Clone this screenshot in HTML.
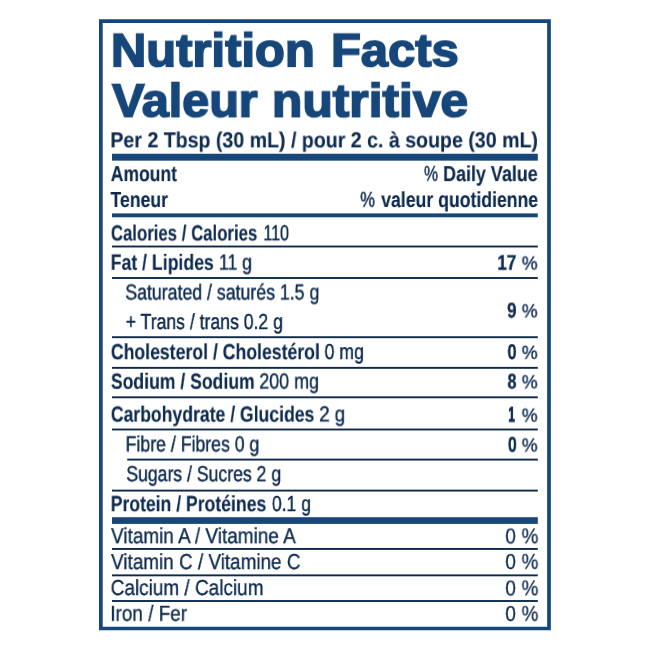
<!DOCTYPE html>
<html><head><meta charset="utf-8"><title>Nutrition Facts</title>
<style>
html,body{margin:0;padding:0;background:#fff;}
body{width:650px;height:650px;position:relative;overflow:hidden;font-family:"Liberation Sans",sans-serif;color:#0f2c50;}
.t{position:absolute;left:0;top:0;white-space:pre;line-height:1;font-weight:400;transform-origin:0 0;will-change:transform;text-rendering:geometricPrecision;}
.b{font-weight:700;}
.g{position:absolute;left:0;top:0;}
</style></head><body>
<svg class="g" width="650" height="650" viewBox="0 0 650 650">
<path fill-rule="evenodd" fill="#17477a" d="M99 19.25H550.85V630.2H99Z M102.7 22.9V626.75H547.15V22.9Z"/>
<rect x="112.00" y="153.75" width="425.80" height="6.90" fill="#17477a"/>
<rect x="112.00" y="213.40" width="425.80" height="3.90" fill="#17477a"/>
<rect x="112.00" y="245.55" width="425.80" height="1.90" fill="#0e2a48"/>
<rect x="112.00" y="277.05" width="425.80" height="1.90" fill="#0e2a48"/>
<rect x="112.00" y="336.25" width="425.80" height="1.90" fill="#0e2a48"/>
<rect x="112.00" y="366.90" width="425.80" height="1.90" fill="#0e2a48"/>
<rect x="112.00" y="396.35" width="425.80" height="1.90" fill="#0e2a48"/>
<rect x="112.00" y="428.55" width="425.80" height="1.90" fill="#0e2a48"/>
<rect x="127.20" y="458.65" width="410.60" height="1.90" fill="#0e2a48"/>
<rect x="112.00" y="489.65" width="425.80" height="1.90" fill="#0e2a48"/>
<rect x="112.00" y="517.20" width="425.80" height="6.70" fill="#17477a"/>
<rect x="112.00" y="548.00" width="425.80" height="1.90" fill="#0e2a48"/>
<rect x="112.00" y="574.40" width="425.80" height="1.90" fill="#0e2a48"/>
<rect x="112.00" y="600.05" width="425.80" height="1.90" fill="#0e2a48"/>
</svg>
<div class="t b" style="font-size:48.65px;transform:translate(110.91px,27.74px) scale(1.0061,0.96);-webkit-text-stroke:1.77px #17477a;color:#17477a;">Nutrition</div>
<div class="t b" style="font-size:48.65px;transform:translate(331.01px,27.74px) scale(1.0047,0.96);-webkit-text-stroke:1.77px #17477a;color:#17477a;">Facts</div>
<div class="t b" style="font-size:48.65px;transform:translate(112.14px,78.04px) scale(0.9965,0.96);-webkit-text-stroke:1.77px #17477a;color:#17477a;">Valeur</div>
<div class="t b" style="font-size:48.65px;transform:translate(271.89px,78.04px) scale(1.0225,0.96);-webkit-text-stroke:1.77px #17477a;color:#17477a;">nutritive</div>
<div class="t b" style="font-size:21.90px;transform:translate(110.33px,129.35px) scale(0.8944,1.00);-webkit-text-stroke:0.12px #0f2c50;">Per 2 Tbsp (30 mL) / pour 2 c. à soupe (30 mL)</div>
<div class="t b" style="font-size:21.70px;transform:translate(110.71px,163.10px) scale(0.8085,1.00);-webkit-text-stroke:0.15px #0f2c50;">Amount</div>
<div class="t b" style="font-size:21.70px;transform:translate(110.45px,189.00px) scale(0.8140,1.00);-webkit-text-stroke:0.15px #0f2c50;">Teneur</div>
<div class="t" style="font-size:21.40px;transform:translate(423.96px,163.75px) scale(0.7403,1.00);-webkit-text-stroke:0.45px #0f2c50;">%</div>
<div class="t b" style="font-size:21.70px;transform:translate(443.09px,163.10px) scale(0.8260,1.00);-webkit-text-stroke:0.15px #0f2c50;">Daily Value</div>
<div class="t" style="font-size:21.40px;transform:translate(360.14px,189.65px) scale(0.7789,1.00);-webkit-text-stroke:0.45px #0f2c50;">%</div>
<div class="t b" style="font-size:21.70px;transform:translate(381.20px,189.00px) scale(0.8137,1.00);-webkit-text-stroke:0.15px #0f2c50;">valeur quotidienne</div>
<div class="t b" style="font-size:22.00px;transform:translate(110.85px,222.50px) scale(0.7627,1.00);-webkit-text-stroke:0.12px #0f2c50;">Calories / Calories</div>
<div class="t" style="font-size:21.70px;transform:translate(263.40px,222.25px) scale(0.7394,1.00);-webkit-text-stroke:0.45px #0f2c50;">110</div>
<div class="t b" style="font-size:22.00px;transform:translate(110.66px,251.80px) scale(0.8036,1.00);-webkit-text-stroke:0.12px #0f2c50;">Fat / Lipides</div>
<div class="t" style="font-size:21.70px;transform:translate(218.90px,251.55px) scale(0.8149,1.00);-webkit-text-stroke:0.45px #0f2c50;">11 g</div>
<div class="t" style="font-size:19.00px;transform:translate(521.76px,254.55px) scale(0.9331,1.00);-webkit-text-stroke:0.35px #0f2c50;">%</div>
<div class="t b" style="font-size:21.20px;transform:translate(497.35px,252.65px) scale(0.8028,1.00);-webkit-text-stroke:0.35px #0f2c50;">17</div>
<div class="t" style="font-size:21.70px;transform:translate(125.31px,281.45px) scale(0.8168,1.00);-webkit-text-stroke:0.45px #0f2c50;">Saturated / saturés 1.5 g</div>
<div class="t" style="font-size:21.70px;transform:translate(125.72px,310.95px) scale(0.8123,1.00);-webkit-text-stroke:0.45px #0f2c50;">+ Trans / trans 0.2 g</div>
<div class="t" style="font-size:19.00px;transform:translate(521.76px,302.35px) scale(0.9331,1.00);-webkit-text-stroke:0.35px #0f2c50;">%</div>
<div class="t b" style="font-size:21.20px;transform:translate(507.07px,300.45px) scale(0.8014,1.00);-webkit-text-stroke:0.35px #0f2c50;">9</div>
<div class="t b" style="font-size:22.00px;transform:translate(110.81px,341.20px) scale(0.8029,1.00);-webkit-text-stroke:0.12px #0f2c50;">Cholesterol / Cholestérol</div>
<div class="t" style="font-size:21.70px;transform:translate(324.54px,340.95px) scale(0.8166,1.00);-webkit-text-stroke:0.45px #0f2c50;">0 mg</div>
<div class="t" style="font-size:19.00px;transform:translate(521.76px,343.85px) scale(0.9331,1.00);-webkit-text-stroke:0.35px #0f2c50;">%</div>
<div class="t b" style="font-size:21.20px;transform:translate(507.44px,341.95px) scale(0.7746,1.00);-webkit-text-stroke:0.35px #0f2c50;">0</div>
<div class="t b" style="font-size:22.00px;transform:translate(110.88px,370.70px) scale(0.8005,1.00);-webkit-text-stroke:0.12px #0f2c50;">Sodium / Sodium</div>
<div class="t" style="font-size:21.70px;transform:translate(259.29px,370.45px) scale(0.8258,1.00);-webkit-text-stroke:0.45px #0f2c50;">200 mg</div>
<div class="t" style="font-size:19.00px;transform:translate(521.76px,373.35px) scale(0.9331,1.00);-webkit-text-stroke:0.35px #0f2c50;">%</div>
<div class="t b" style="font-size:21.20px;transform:translate(507.54px,371.45px) scale(0.7519,1.00);-webkit-text-stroke:0.35px #0f2c50;">8</div>
<div class="t b" style="font-size:22.00px;transform:translate(110.81px,403.60px) scale(0.8004,1.00);-webkit-text-stroke:0.12px #0f2c50;">Carbohydrate / Glucides</div>
<div class="t" style="font-size:21.70px;transform:translate(319.26px,403.35px) scale(0.8600,1.00);-webkit-text-stroke:0.45px #0f2c50;">2 g</div>
<div class="t" style="font-size:19.00px;transform:translate(521.76px,406.65px) scale(0.9331,1.00);-webkit-text-stroke:0.35px #0f2c50;">%</div>
<div class="t b" style="font-size:21.20px;transform:translate(508.20px,404.51px) scale(0.5732,1.00);-webkit-text-stroke:0.90px #0f2c50;">1</div>
<div class="t" style="font-size:21.70px;transform:translate(125.63px,433.35px) scale(0.8158,1.00);-webkit-text-stroke:0.45px #0f2c50;">Fibre / Fibres 0 g</div>
<div class="t" style="font-size:19.00px;transform:translate(521.76px,436.55px) scale(0.9331,1.00);-webkit-text-stroke:0.35px #0f2c50;">%</div>
<div class="t b" style="font-size:21.20px;transform:translate(507.84px,434.65px) scale(0.7650,1.00);-webkit-text-stroke:0.35px #0f2c50;">0</div>
<div class="t" style="font-size:21.70px;transform:translate(126.31px,463.15px) scale(0.8125,1.00);-webkit-text-stroke:0.45px #0f2c50;">Sugars / Sucres 2 g</div>
<div class="t b" style="font-size:22.00px;transform:translate(110.66px,493.20px) scale(0.8004,1.00);-webkit-text-stroke:0.12px #0f2c50;">Protein / Protéines</div>
<div class="t" style="font-size:21.70px;transform:translate(271.95px,492.95px) scale(0.8080,1.00);-webkit-text-stroke:0.45px #0f2c50;">0.1 g</div>
<div class="t" style="font-size:21.70px;transform:translate(111.03px,525.15px) scale(0.8736,1.00);-webkit-text-stroke:0.35px #0f2c50;">Vitamin A / Vitamine A</div>
<div class="t" style="font-size:21.40px;transform:translate(521.57px,526.25px) scale(0.8812,1.00);-webkit-text-stroke:0.25px #0f2c50;">%</div>
<div class="t" style="font-size:21.60px;transform:translate(505.34px,525.45px) scale(0.8771,1.00);-webkit-text-stroke:0.25px #0f2c50;">0</div>
<div class="t" style="font-size:21.70px;transform:translate(111.03px,551.05px) scale(0.8716,1.00);-webkit-text-stroke:0.35px #0f2c50;">Vitamin C / Vitamine C</div>
<div class="t" style="font-size:21.40px;transform:translate(521.57px,551.75px) scale(0.8812,1.00);-webkit-text-stroke:0.25px #0f2c50;">%</div>
<div class="t" style="font-size:21.60px;transform:translate(505.34px,550.95px) scale(0.8771,1.00);-webkit-text-stroke:0.25px #0f2c50;">0</div>
<div class="t" style="font-size:21.70px;transform:translate(110.66px,576.95px) scale(0.8745,1.00);-webkit-text-stroke:0.35px #0f2c50;">Calcium / Calcium</div>
<div class="t" style="font-size:21.40px;transform:translate(521.57px,578.25px) scale(0.8812,1.00);-webkit-text-stroke:0.25px #0f2c50;">%</div>
<div class="t" style="font-size:21.60px;transform:translate(505.34px,577.45px) scale(0.8771,1.00);-webkit-text-stroke:0.25px #0f2c50;">0</div>
<div class="t" style="font-size:21.70px;transform:translate(110.31px,602.75px) scale(0.8718,1.00);-webkit-text-stroke:0.35px #0f2c50;">Iron / Fer</div>
<div class="t" style="font-size:21.40px;transform:translate(521.57px,603.75px) scale(0.8812,1.00);-webkit-text-stroke:0.25px #0f2c50;">%</div>
<div class="t" style="font-size:21.60px;transform:translate(505.34px,602.95px) scale(0.8771,1.00);-webkit-text-stroke:0.25px #0f2c50;">0</div>
</body></html>
